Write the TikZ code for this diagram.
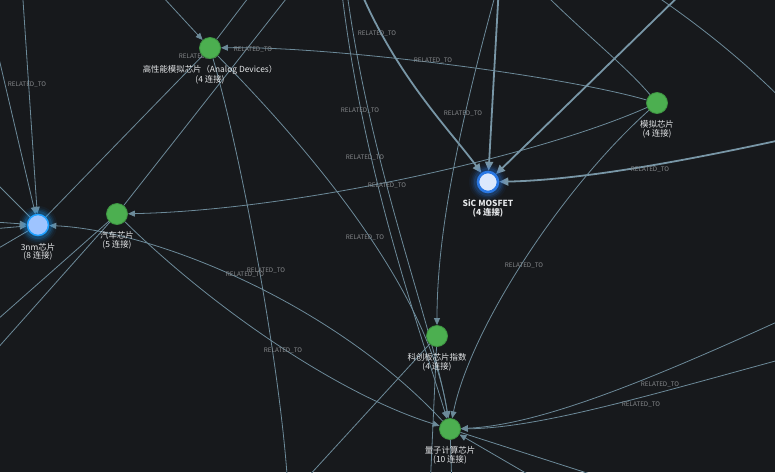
\documentclass[tikz,border=0pt]{standalone}
\usepackage{fontspec}
\setmainfont{Noto Sans CJK SC}
\usetikzlibrary{arrows.meta}
\definecolor{bg}{HTML}{17191C}
\definecolor{edgec}{HTML}{6C8A99}
\definecolor{edgeT}{HTML}{7896A6}
\definecolor{gfill}{HTML}{4CAF50}
\definecolor{gline}{HTML}{3E9442}
\definecolor{txt}{HTML}{E4E6E8}
\definecolor{elbl}{HTML}{85888B}
\definecolor{sicfill}{HTML}{DCE8FC}
\definecolor{sicring}{HTML}{2A78E4}
\definecolor{nmfill}{HTML}{9EC4FF}
\definecolor{nmring}{HTML}{1EA0FF}
\pgfdeclarelayer{bglayer}
\pgfdeclarelayer{edgelayer}
\pgfsetlayers{bglayer,edgelayer,main}
\begin{document}
\begin{tikzpicture}[x=1pt,y=-1pt,
  gnode/.style={circle, fill=gfill, draw=gline, line width=0.8pt, minimum size=21pt, inner sep=0pt},
  nlbl/.style={font=\fontsize{8.4}{8.8}\selectfont, text=txt, align=center, inner sep=0pt},
  rel/.style={draw=edgec, line width=0.8pt},
  relT/.style={draw=edgeT, line width=1.8pt},
  tip/.style={-{Triangle[length=7pt,width=6pt]}},
  tipT/.style={-{Triangle[length=9pt,width=8pt]}},
  elabel/.style={font=\fontsize{6.3}{6.3}\selectfont, text=elbl, inner sep=0pt},
]
\useasboundingbox (0,0) rectangle (775,472);
\begin{pgfonlayer}{bglayer}
\fill[bg] (0,0) rectangle (775,472);
\end{pgfonlayer}

% glows
\foreach \r/\o in {19/0.05,17/0.08,15.5/0.12,14/0.18}{
  \fill[sicring, opacity=\o] (488,182) circle (\r);
  \fill[nmring, opacity=\o] (38,225) circle (\r);
}

% nodes
\node[gnode, label={[nlbl,label distance=6.5pt]below:{高性能模拟芯片（Analog Devices）\\(4 连接)}}] (A) at (210,48) {};
\node[gnode, label={[nlbl,label distance=6.5pt]below:{模拟芯片\\(4 连接)}}] (M) at (657,103) {};
\node[circle, fill=sicfill, draw=sicring, line width=2.6pt, minimum size=20pt, inner sep=0pt,
  label={[nlbl,font=\fontsize{8.4}{8.8}\selectfont\bfseries,label distance=6pt]below:{SiC MOSFET\\(4 连接)}}] (S) at (488,182) {};
\node[circle, fill=nmfill, draw=nmring, line width=1.5pt, minimum size=21pt, inner sep=0pt,
  label={[nlbl,label distance=6.5pt]below:{3nm芯片\\(8 连接)}}] (N) at (38,225) {};
\node[gnode, label={[nlbl,label distance=6.5pt]below:{汽车芯片\\(5 连接)}}] (C) at (117,214) {};
\node[gnode, label={[nlbl,label distance=6.5pt]below:{科创板芯片指数\\(4 连接)}}] (K) at (437,336) {};
\node[gnode, label={[nlbl,label distance=6.5pt]below:{量子计算芯片\\(10 连接)}}] (Q) at (450,429) {};

\begin{pgfonlayer}{edgelayer}
\clip (0,0) rectangle (775,472);
% off-canvas ends
\coordinate (oA1) at (138,-30);
\coordinate (oA2) at (258,-15);
\coordinate (oA3) at (288,490);
\coordinate (oC1) at (297,-15);
\coordinate (oV1) at (341,-15);
\coordinate (oV2) at (346,-15);
\coordinate (oT1) at (358,-15);
\coordinate (oT2) at (499,-15);
\coordinate (oT3) at (690,-15);
\coordinate (oT4) at (790,138);
\coordinate (oK1) at (498,-15);
\coordinate (oM1) at (536,-15);
\coordinate (oX1) at (640,-15);
\coordinate (oX2) at (800,118);
\coordinate (oN1) at (22,-15);
\coordinate (oN2) at (-3,50);
\coordinate (oN3) at (-20,167);
\coordinate (oN4) at (-20,221);
\coordinate (oN5) at (-20,230);
\coordinate (oN6) at (-20,259);
\coordinate (oC2) at (-20,335);
\coordinate (oC3) at (-20,368);
\coordinate (oK2) at (430,490);
\coordinate (oK3) at (296,490);
\coordinate (oQ1) at (452,490);
\coordinate (oQ2) at (640,490);
\coordinate (oQ3) at (555,490);
\coordinate (oR1) at (790,316);
\coordinate (oR2) at (790,357);

% A
\draw[rel,tip] (oA1) -- (A);
\draw[rel] (A) -- (oA2);
\draw[rel] (A) .. controls (245,170) and (282,380) .. (oA3);
\draw[rel,tip] (A) .. controls (330,170) and (430,300) .. (Q);
\draw[rel,tip] (M) .. controls (560,75) and (330,46) .. (A);
\draw[rel] (A) -- (N);
% C
\draw[rel] (oC1) -- (C);
\draw[rel,tip] (M) .. controls (540,155) and (300,210) .. (C);
\draw[rel,tip] (C) .. controls (215,310) and (340,395) .. (Q);
\draw[rel] (C) -- (oC2);
\draw[rel] (C) -- (oC3);
% vertical lines to Q
\draw[rel,tip] (oV1) .. controls (362,170) and (420,330) .. (Q);
\draw[rel,tip] (oV2) .. controls (370,170) and (432,320) .. (Q);
% SiC
\draw[relT,tipT] (oT1) .. controls (395,75) and (450,130) .. (S);
\draw[relT,tipT] (oT2) -- (S);
\draw[relT,tipT] (oT3) -- (S);
\draw[relT,tipT] (oT4) .. controls (680,162) and (580,180) .. (S);
% K
\draw[rel,tip] (oK1) .. controls (455,140) and (437,240) .. (K);
\draw[rel] (K) -- (oK2);
\draw[rel] (K) -- (oK3);
% M
\draw[rel] (oM1) .. controls (580,30) and (625,65) .. (M);
\draw[rel,tip] (M) .. controls (560,190) and (470,330) .. (Q);
\draw[rel] (oX1) .. controls (700,25) and (750,65) .. (oX2);
% 3nm
\draw[rel,tip] (oN1) -- (N);
\draw[rel,tip] (oN2) -- (N);
\draw[rel] (oN3) -- (N);
\draw[rel,tip] (oN4) -- (N);
\draw[rel,tip] (oN5) -- (N);
\draw[rel] (oN6) -- (N);
\draw[rel,tip] (Q) .. controls (330,300) and (150,230) .. (N);
% Q
\draw[rel] (Q) -- (oQ1);
\draw[rel] (Q) -- (oQ2);
\draw[rel,tip] (oQ3) -- (Q);
\draw[rel,tip] (oR1) .. controls (650,380) and (540,425) .. (Q);
\draw[rel,tip] (oR2) .. controls (650,395) and (540,428) .. (Q);

% edge labels
\foreach \p in {(27,85),(198,57),(253,50),(377,34),(433,61),(360,111),(463,114),(365,158),(387,186),(365,238),(245,275),(266,271),(283,351),(524,266),(650,170),(660,385),(641,405)}{
  \node[elabel] at \p {RELATED\_TO};
}
\end{pgfonlayer}
\end{tikzpicture}
\end{document}
